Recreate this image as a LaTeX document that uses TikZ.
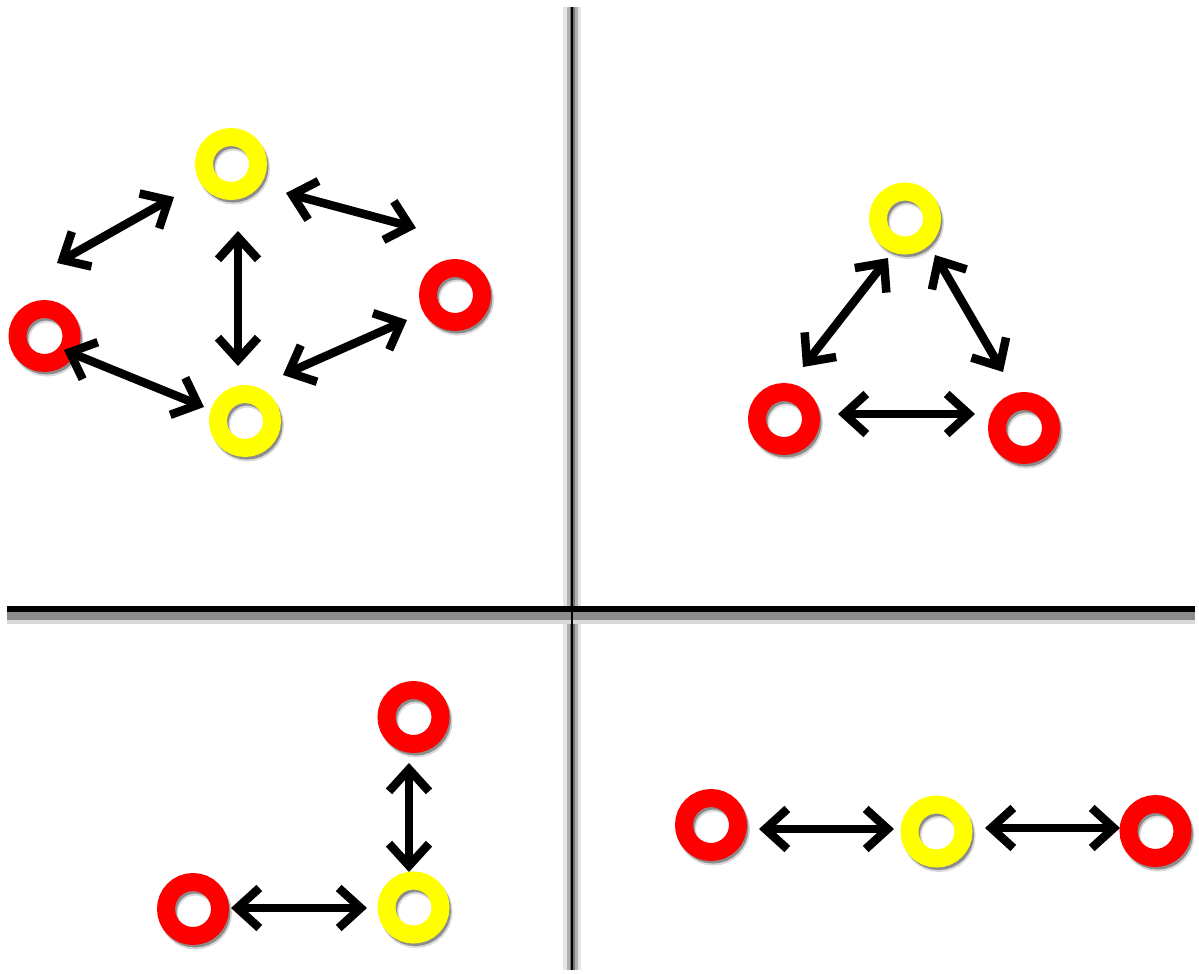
\documentclass[tikz,border=0pt]{standalone}
\usetikzlibrary{arrows.meta}
\definecolor{ringred}{RGB}{255,0,0}
\definecolor{ringyellow}{RGB}{255,255,0}
\begin{document}
\begin{tikzpicture}[x=1pt,y=-1pt,
  ring/.style={circle, minimum size=54pt, inner sep=0pt, line width=18pt, draw=#1,
    preaction={draw=black!15, line width=19pt, transform canvas={shift={(2.5pt,-4pt)}}},
    preaction={draw=black!45, line width=17pt, transform canvas={shift={(2pt,-3pt)}}}},
  biarrow/.style={line width=8.5pt, {Straight Barb[length=22pt,width=40pt]}-{Straight Barb[length=22pt,width=40pt]}},
]
\useasboundingbox (0,0) rectangle (1199,974);
\fill[white] (0,0) rectangle (1199,974);

% dividers
\coordinate (vtop) at (572,7);
\coordinate (vbot) at (572,970);
\coordinate (hleft) at (7,609);
\coordinate (hright) at (1195,609);
\draw[black!10, line width=18pt] (vtop) -- (vbot);
\draw[black!30, line width=11pt] (vtop) -- (vbot);
\draw[black!55, line width=5pt] (vtop) -- (vbot);
\draw[black!15, line width=18pt] ([yshift=-6pt]hleft) -- ([yshift=-6pt]hright);
\draw[black!45, line width=10pt] ([yshift=-6pt]hleft) -- ([yshift=-6pt]hright);
\draw[black, line width=2pt] (vtop) -- (vbot);
\draw[black, line width=6pt] (hleft) -- (hright);

% top-left quadrant
\node[ring=ringyellow] (tlyt) at (231,164) {};
\node[ring=ringred] (tlrl) at (44.5,336) {};
\node[ring=ringyellow] (tlyb) at (245,421) {};
\node[ring=ringred] (tlrr) at (455,295) {};
\coordinate (a1s) at (57,263);  \coordinate (a1e) at (174,197);
\coordinate (a2s) at (286,193); \coordinate (a2e) at (416,228);
\coordinate (a3s) at (238,231); \coordinate (a3e) at (238,366);
\coordinate (a4s) at (64,350);  \coordinate (a4e) at (204,407);
\coordinate (a5s) at (283,375); \coordinate (a5e) at (407,320);
\foreach \a in {a1,a2,a3,a4,a5} \draw[biarrow] (\a s) -- (\a e);

% top-right quadrant
\node[ring=ringyellow] (tryt) at (905,218.5) {};
\node[ring=ringred] (trrl) at (784,419) {};
\node[ring=ringred] (trrr) at (1024,428) {};
\coordinate (b1s) at (803,367);  \coordinate (b1e) at (888,258);
\coordinate (b2s) at (935,255);  \coordinate (b2e) at (1003,372);
\coordinate (b3s) at (838,414);  \coordinate (b3e) at (975,414);
\foreach \a in {b1,b2,b3} \draw[biarrow] (\a s) -- (\a e);

% bottom-left quadrant
\node[ring=ringred] (blrt) at (413.5,717) {};
\node[ring=ringyellow] (blyb) at (413.5,907.5) {};
\node[ring=ringred] (blrl) at (193,909) {};
\coordinate (c1s) at (409,763);  \coordinate (c1e) at (409,872);
\coordinate (c2s) at (231,908);  \coordinate (c2e) at (367,908);
\foreach \a in {c1,c2} \draw[biarrow] (\a s) -- (\a e);

% bottom-right quadrant
\node[ring=ringred] (brrl) at (711,825) {};
\node[ring=ringyellow] (bryc) at (936.5,831.5) {};
\node[ring=ringred] (brrr) at (1155.5,831) {};
\coordinate (d1s) at (759,829);  \coordinate (d1e) at (894,829);
\coordinate (d2s) at (985,828);  \coordinate (d2e) at (1120,828);
\foreach \a in {d1,d2} \draw[biarrow] (\a s) -- (\a e);
\end{tikzpicture}
\end{document}
